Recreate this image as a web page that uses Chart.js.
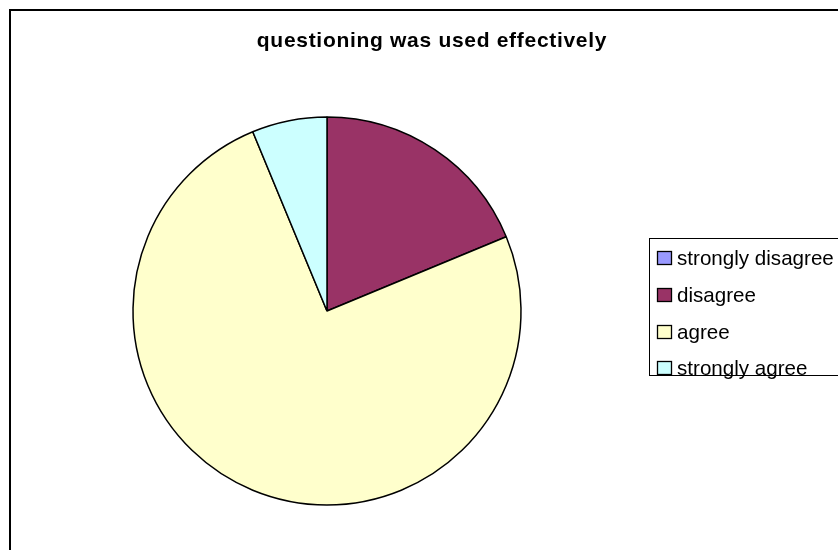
<!DOCTYPE html>
<html>
<head>
<meta charset="utf-8">
<script src="https://cdn.jsdelivr.net/npm/chart.js@4/dist/chart.umd.min.js"></script>
<style>
  html, body { margin: 0; padding: 0; background: #ffffff; }
  #wrap { width: 838px; height: 550px; }
</style>
</head>
<body>
<div id="wrap"><canvas id="chart" width="838" height="550"></canvas></div>
<script>
// Survey responses
const chartTitle = 'questioning was used effectively';
const categories = ['strongly disagree', 'disagree', 'agree', 'strongly agree'];
const responses = [0, 3, 12, 1];
const sliceColors = ['#9999FF', '#993366', '#FFFFCC', '#CCFFFF'];

const FONT = "'Liberation Sans', Arial, sans-serif";

// Outer frame, title and legend box drawn around the pie
const decorations = {
  id: 'decorations',
  beforeDraw(chart) {
    const ctx = chart.ctx;
    ctx.save();
    ctx.fillStyle = '#ffffff';
    ctx.fillRect(0, 0, chart.width, chart.height);
    ctx.strokeStyle = '#000000';
    ctx.lineWidth = 2;
    ctx.strokeRect(10, 10, chart.width + 40, chart.height + 40);
    ctx.restore();
  },
  afterDraw(chart) {
    const ctx = chart.ctx;
    ctx.save();
    // title
    ctx.fillStyle = '#000000';
    ctx.font = 'bold 21px ' + FONT;
    ctx.textAlign = 'center';
    ctx.textBaseline = 'alphabetic';
    if ('letterSpacing' in ctx) ctx.letterSpacing = '0.7px';
    ctx.fillText(chartTitle, 432, 47);
    if ('letterSpacing' in ctx) ctx.letterSpacing = '0px';

    // legend box
    ctx.strokeStyle = '#000000';
    ctx.lineWidth = 1;
    ctx.strokeRect(649.5, 238.5, 300, 137);

    const labels = chart.data.labels;
    const colors = chart.data.datasets[0].backgroundColor;
    ctx.font = '20.6px ' + FONT;
    ctx.textAlign = 'left';
    ctx.textBaseline = 'middle';
    const rowY = [258, 295, 332, 368];
    labels.forEach((lab, i) => {
      const y = rowY[i];
      ctx.fillStyle = colors[i];
      ctx.fillRect(657.5, y - 6.5, 14, 13);
      ctx.strokeStyle = '#000000';
      ctx.lineWidth = 1.3;
      ctx.strokeRect(657.5, y - 6.5, 14, 13);
      ctx.fillStyle = '#000000';
      ctx.fillText(lab, 677, y + 1);
    });
    ctx.restore();
  }
};

new Chart(document.getElementById('chart'), {
  type: 'pie',
  data: {
    labels: categories,
    datasets: [{
      data: responses,
      backgroundColor: sliceColors,
      borderColor: '#000000',
      borderWidth: 1.5
    }]
  },
  options: {
    responsive: false,
    animation: false,
    events: [],
    radius: 194,
    layout: { padding: { left: 133, right: 317, top: 117, bottom: 45 } },
    plugins: {
      legend: { display: false },
      title: { display: false },
      tooltip: { enabled: false }
    }
  },
  plugins: [decorations]
});
</script>
</body>
</html>
